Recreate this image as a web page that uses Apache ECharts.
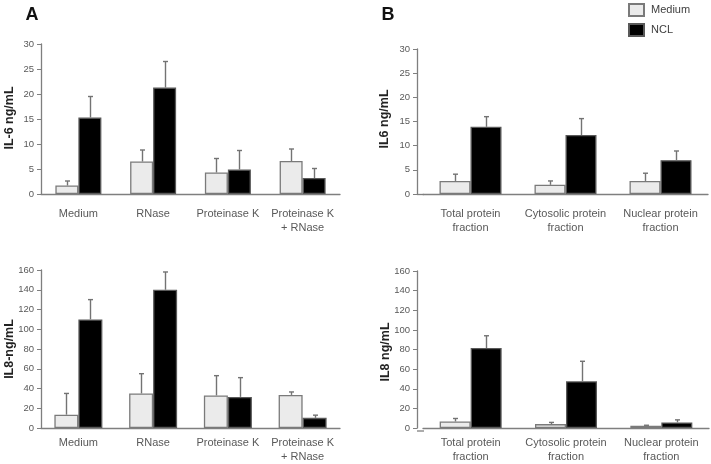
<!DOCTYPE html>
<html>
<head>
<meta charset="utf-8">
<script src="https://cdn.jsdelivr.net/npm/echarts@6/dist/echarts.min.js"></script>
<style>html,body{margin:0;padding:0;background:#fff;}#c{width:711px;height:464px;}</style>
</head>
<body>
<div id="c"></div>
<script>
// ---- Data ----
var catsA = ['Medium', 'RNase', 'Proteinase K', 'Proteinase K\n+ RNase'];
var catsB = ['Total protein\nfraction', 'Cytosolic protein\nfraction', 'Nuclear protein\nfraction'];

var il6A_medium = [1.7, 6.5, 4.3, 6.6];
var il6A_mediumErr = [0.9, 2.3, 2.8, 2.4];
var il6A_ncl = [15.3, 21.3, 4.9, 3.2];
var il6A_nclErr = [4.2, 5.2, 3.8, 1.9];

var il8A_medium = [13.5, 35, 33, 33.5];
var il8A_mediumErr = [21.5, 20, 20, 3];
var il8A_ncl = [110, 140, 31.5, 10.3];
var il8A_nclErr = [20, 18, 19.5, 2.7];

var il6B_medium = [2.7, 1.9, 2.7];
var il6B_mediumErr = [1.4, 0.8, 1.6];
var il6B_ncl = [13.9, 12.2, 7.0];
var il6B_nclErr = [2.1, 3.4, 1.9];

var il8B_medium = [6.7, 4, 2.3];
var il8B_mediumErr = [3, 1.7, 0.5];
var il8B_ncl = [81.5, 47.6, 5.7];
var il8B_nclErr = [12.5, 20.4, 2.6];

var ticksIL6 = {min: 0, max: 30, interval: 5};
var ticksIL8 = {min: 0, max: 160, interval: 20};

// ---- Styles ----
var FONT = 'Liberation Sans';
var AXIS_COLOR = '#7f7f7f';
var LABEL_COLOR = '#595959';
var LIGHT = '#ebebeb';
var DARK = '#000000';

function errData(vals, errs) {
  return vals.map(function (v, i) { return [i, v, errs[i]]; });
}
function makeErr(sign, barW) {
  return function (params, api) {
    var x = api.value(0), v = api.value(1), e = api.value(2);
    var p0 = api.coord([x, v]);
    var p1 = api.coord([x, v + e]);
    var cx = Math.round(p0[0] + sign * barW / 2) + 0.5;
    var st = {stroke: '#737373', lineWidth: 1.4};
    return {type: 'group', children: [
      {type: 'line', shape: {x1: cx, y1: p0[1], x2: cx, y2: p1[1]}, style: st},
      {type: 'line', shape: {x1: cx - 2.5, y1: p1[1], x2: cx + 2.5, y2: p1[1]}, style: st}
    ]};
  };
}

var grids = [
  {left: 41, right: 371, top: 44, bottom: 270},
  {left: 423, right: 3, top: 49, bottom: 270},
  {left: 41, right: 371, top: 270, bottom: 33},
  {left: 423, right: 2, top: 271, bottom: 33}
];
var panels = [
  {cats: catsA, med: il6A_medium, medE: il6A_mediumErr, ncl: il6A_ncl, nclE: il6A_nclErr, ticks: ticksIL6, bw: 23, off: 0, margin: 13},
  {cats: catsB, med: il6B_medium, medE: il6B_mediumErr, ncl: il6B_ncl, nclE: il6B_nclErr, ticks: ticksIL6, bw: 31, off: 6, margin: 13},
  {cats: catsA, med: il8A_medium, medE: il8A_mediumErr, ncl: il8A_ncl, nclE: il8A_nclErr, ticks: ticksIL8, bw: 24, off: 0, margin: 8},
  {cats: catsB, med: il8B_medium, medE: il8B_mediumErr, ncl: il8B_ncl, nclE: il8B_nclErr, ticks: ticksIL8, bw: 31, off: 6, margin: 8}
];

var xAxes = [], yAxes = [], series = [];
panels.forEach(function (p, k) {
  xAxes.push({
    type: 'category', gridIndex: k, data: p.cats,
    axisLine: {lineStyle: {color: AXIS_COLOR, width: 1.3}},
    axisTick: {show: false},
    axisLabel: {interval: 0, fontFamily: FONT, fontSize: 11, lineHeight: 14, color: LABEL_COLOR, margin: p.margin}
  });
  yAxes.push({
    type: 'value', gridIndex: k, min: p.ticks.min, max: p.ticks.max, interval: p.ticks.interval,
    offset: p.off,
    axisLine: {show: true, lineStyle: {color: AXIS_COLOR, width: 1.3}},
    axisTick: {show: true, length: 4, lineStyle: {color: AXIS_COLOR}},
    splitLine: {show: false},
    axisLabel: {fontFamily: FONT, fontSize: 9.5, color: LABEL_COLOR, margin: 7}
  });
  series.push({
    type: 'bar', name: 'Medium', xAxisIndex: k, yAxisIndex: k, data: p.med,
    barWidth: p.bw, barGap: '0%',
    itemStyle: {color: LIGHT, borderColor: '#7a7a7a', borderWidth: 1.3},
    emphasis: {disabled: true}
  });
  series.push({
    type: 'bar', name: 'NCL', xAxisIndex: k, yAxisIndex: k, data: p.ncl,
    barWidth: p.bw, barGap: '0%',
    itemStyle: {color: DARK, borderColor: '#595959', borderWidth: 1.3},
    emphasis: {disabled: true}
  });
  series.push({
    type: 'custom', name: 'errM' + k, xAxisIndex: k, yAxisIndex: k,
    data: errData(p.med, p.medE), renderItem: makeErr(-1, p.bw), z: 5,
    encode: {x: 0, y: [1, 2]}
  });
  series.push({
    type: 'custom', name: 'errN' + k, xAxisIndex: k, yAxisIndex: k,
    data: errData(p.ncl, p.nclE), renderItem: makeErr(1, p.bw), z: 5,
    encode: {x: 0, y: [1, 2]}
  });
});

function vText(txt, x, y) {
  return {type: 'text', x: x, y: y, rotation: Math.PI / 2,
    style: {text: txt, fontFamily: FONT, fontSize: 12.5, fontWeight: 'bold', fill: '#222', align: 'center', verticalAlign: 'middle'}};
}

var option = {
  animation: false,
  backgroundColor: '#fff',
  grid: grids,
  xAxis: xAxes,
  yAxis: yAxes,
  series: series,
  legend: {
    data: ['Medium', 'NCL'], orient: 'vertical', left: 628, top: 3, padding: 0,
    itemWidth: 15, itemHeight: 12, itemGap: 6, icon: 'rect',
    textStyle: {fontFamily: FONT, fontSize: 11, color: '#404040', padding: [0, 0, 0, 2]}
  },
  graphic: [
    {type: 'text', x: 32, y: 15, style: {text: 'A', fontFamily: FONT, fontSize: 18, fontWeight: 'bold', fill: '#111', align: 'center', verticalAlign: 'middle'}},
    {type: 'text', x: 388, y: 15, style: {text: 'B', fontFamily: FONT, fontSize: 18, fontWeight: 'bold', fill: '#111', align: 'center', verticalAlign: 'middle'}},
    vText('IL-6 ng/mL', 10, 118),
    vText('IL6 ng/mL', 385, 119),
    vText('IL8-ng/mL', 10, 349),
    vText('IL8 ng/mL', 386, 352),
    {type: 'line', shape: {x1: 417, y1: 194.5, x2: 424, y2: 194.5}, style: {stroke: AXIS_COLOR, lineWidth: 1.3}},
    {type: 'line', shape: {x1: 417, y1: 431, x2: 424, y2: 431}, style: {stroke: AXIS_COLOR, lineWidth: 1.3}}
  ]
};
var chart = echarts.init(document.getElementById('c'), null, {renderer: 'canvas'});
chart.setOption(option);
</script>
</body>
</html>
